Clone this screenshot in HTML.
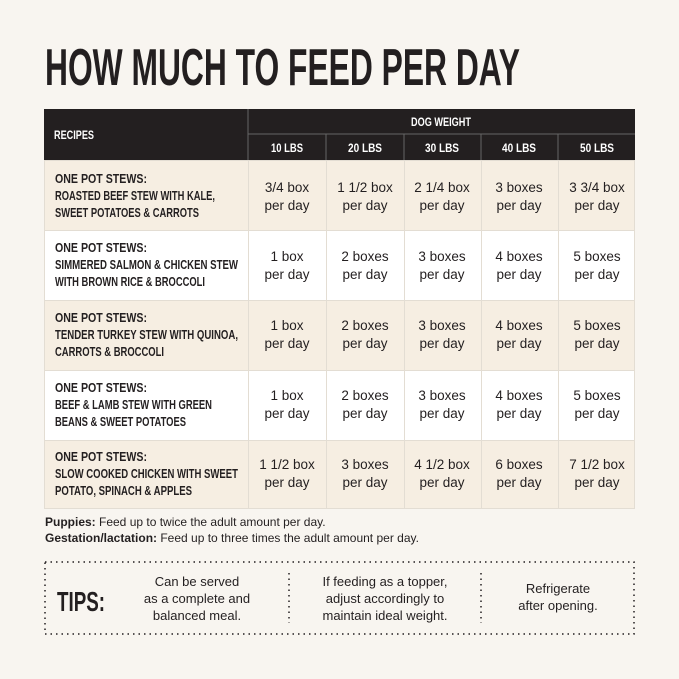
<!DOCTYPE html><html><head><style>
body{margin:0;width:679px;height:679px;background:#f8f5f0;position:relative;overflow:hidden;font-family:"Liberation Sans",sans-serif;color:#231f20}
.a{position:absolute}
</style></head><body>
<svg class="a" style="left:0;top:0" width="679" height="679">
<text x="45" y="85" font-family="Liberation Sans Narrow, Liberation Sans, sans-serif" font-weight="bold" font-size="52" textLength="475" lengthAdjust="spacingAndGlyphs" fill="#231f20">HOW MUCH TO FEED PER DAY</text>
<rect x="44" y="109" width="591" height="51" fill="#231f20"/>
<line x1="248" y1="109" x2="248" y2="160" stroke="#666" stroke-width="1"/>
<line x1="248" y1="134" x2="635" y2="134" stroke="#666"/>
<g stroke="#666"><line x1="326" y1="134" x2="326" y2="160"/><line x1="404" y1="134" x2="404" y2="160"/><line x1="481" y1="134" x2="481" y2="160"/><line x1="558" y1="134" x2="558" y2="160"/></g>
<g font-family="Liberation Sans Narrow, Liberation Sans, sans-serif" font-weight="bold" font-size="12" fill="#fff" text-anchor="middle">
<text x="54" y="139" text-anchor="start" textLength="40" lengthAdjust="spacingAndGlyphs">RECIPES</text>
<text x="441" y="126" textLength="60" lengthAdjust="spacingAndGlyphs">DOG WEIGHT</text>
<text x="287" y="152" textLength="32" lengthAdjust="spacingAndGlyphs">10 LBS</text>
<text x="365" y="152" textLength="34" lengthAdjust="spacingAndGlyphs">20 LBS</text>
<text x="442" y="152" textLength="34" lengthAdjust="spacingAndGlyphs">30 LBS</text>
<text x="519" y="152" textLength="34" lengthAdjust="spacingAndGlyphs">40 LBS</text>
<text x="597" y="152" textLength="34" lengthAdjust="spacingAndGlyphs">50 LBS</text>
</g>
<rect x="44" y="160" width="591" height="70" fill="#f6eee2"/>
<rect x="44" y="230" width="591" height="70" fill="#fff"/>
<rect x="44" y="300" width="591" height="70" fill="#f6eee2"/>
<rect x="44" y="370" width="591" height="70" fill="#fff"/>
<rect x="44" y="440" width="591" height="69" fill="#f6eee2"/>
<g stroke="#e3ddd3" stroke-width="1" fill="none">
<rect x="44.5" y="160.5" width="590" height="348"/>
<line x1="44" y1="230.5" x2="635" y2="230.5"/><line x1="44" y1="300.5" x2="635" y2="300.5"/><line x1="44" y1="370.5" x2="635" y2="370.5"/><line x1="44" y1="440.5" x2="635" y2="440.5"/>
<line x1="248.5" y1="160" x2="248.5" y2="509"/><line x1="326.5" y1="160" x2="326.5" y2="509"/><line x1="404.5" y1="160" x2="404.5" y2="509"/><line x1="481.5" y1="160" x2="481.5" y2="509"/><line x1="558.5" y1="160" x2="558.5" y2="509"/>
</g>
<g font-family="Liberation Sans Narrow, Liberation Sans, sans-serif" font-weight="bold" font-size="13" fill="#231f20">
<text x="55" y="183" textLength="92" lengthAdjust="spacingAndGlyphs">ONE POT STEWS:</text>
<text x="55" y="200" textLength="160" lengthAdjust="spacingAndGlyphs">ROASTED BEEF STEW WITH KALE,</text>
<text x="55" y="217" textLength="144" lengthAdjust="spacingAndGlyphs">SWEET POTATOES &amp; CARROTS</text>
<text x="55" y="252" textLength="92" lengthAdjust="spacingAndGlyphs">ONE POT STEWS:</text>
<text x="55" y="269" textLength="183" lengthAdjust="spacingAndGlyphs">SIMMERED SALMON &amp; CHICKEN STEW</text>
<text x="55" y="286" textLength="150" lengthAdjust="spacingAndGlyphs">WITH BROWN RICE &amp; BROCCOLI</text>
<text x="55" y="322" textLength="92" lengthAdjust="spacingAndGlyphs">ONE POT STEWS:</text>
<text x="55" y="339" textLength="183" lengthAdjust="spacingAndGlyphs">TENDER TURKEY STEW WITH QUINOA,</text>
<text x="55" y="356" textLength="109" lengthAdjust="spacingAndGlyphs">CARROTS &amp; BROCCOLI</text>
<text x="55" y="392" textLength="92" lengthAdjust="spacingAndGlyphs">ONE POT STEWS:</text>
<text x="55" y="409" textLength="157" lengthAdjust="spacingAndGlyphs">BEEF &amp; LAMB STEW WITH GREEN</text>
<text x="55" y="426" textLength="131" lengthAdjust="spacingAndGlyphs">BEANS &amp; SWEET POTATOES</text>
<text x="55" y="461" textLength="92" lengthAdjust="spacingAndGlyphs">ONE POT STEWS:</text>
<text x="55" y="478" textLength="183" lengthAdjust="spacingAndGlyphs">SLOW COOKED CHICKEN WITH SWEET</text>
<text x="55" y="495" textLength="137" lengthAdjust="spacingAndGlyphs">POTATO, SPINACH &amp; APPLES</text>
</g>
<g font-family="Liberation Sans, sans-serif" font-size="13.5" fill="#231f20" text-anchor="middle">
<text x="287" y="192">3/4 box</text><text x="287" y="210">per day</text>
<text x="365" y="192">1 1/2 box</text><text x="365" y="210">per day</text>
<text x="442" y="192">2 1/4 box</text><text x="442" y="210">per day</text>
<text x="519" y="192">3 boxes</text><text x="519" y="210">per day</text>
<text x="597" y="192">3 3/4 box</text><text x="597" y="210">per day</text>
<text x="287" y="261">1 box</text><text x="287" y="279">per day</text>
<text x="365" y="261">2 boxes</text><text x="365" y="279">per day</text>
<text x="442" y="261">3 boxes</text><text x="442" y="279">per day</text>
<text x="519" y="261">4 boxes</text><text x="519" y="279">per day</text>
<text x="597" y="261">5 boxes</text><text x="597" y="279">per day</text>
<text x="287" y="330">1 box</text><text x="287" y="348">per day</text>
<text x="365" y="330">2 boxes</text><text x="365" y="348">per day</text>
<text x="442" y="330">3 boxes</text><text x="442" y="348">per day</text>
<text x="519" y="330">4 boxes</text><text x="519" y="348">per day</text>
<text x="597" y="330">5 boxes</text><text x="597" y="348">per day</text>
<text x="287" y="400">1 box</text><text x="287" y="418">per day</text>
<text x="365" y="400">2 boxes</text><text x="365" y="418">per day</text>
<text x="442" y="400">3 boxes</text><text x="442" y="418">per day</text>
<text x="519" y="400">4 boxes</text><text x="519" y="418">per day</text>
<text x="597" y="400">5 boxes</text><text x="597" y="418">per day</text>
<text x="287" y="469">1 1/2 box</text><text x="287" y="487">per day</text>
<text x="365" y="469">3 boxes</text><text x="365" y="487">per day</text>
<text x="442" y="469">4 1/2 box</text><text x="442" y="487">per day</text>
<text x="519" y="469">6 boxes</text><text x="519" y="487">per day</text>
<text x="597" y="469">7 1/2 box</text><text x="597" y="487">per day</text>
</g>
<g font-family="Liberation Sans, sans-serif" font-size="12" fill="#231f20">
<text x="45" y="526"><tspan font-weight="bold">Puppies:</tspan> Feed up to twice the adult amount per day.</text>
<text x="45" y="542"><tspan font-weight="bold">Gestation/lactation:</tspan> Feed up to three times the adult amount per day.</text>
</g>
<rect x="45" y="562" width="589" height="72" fill="none" stroke="#231f20" stroke-width="1.5" stroke-dasharray="1.5 4"/>
<line x1="289" y1="573" x2="289" y2="623" stroke="#231f20" stroke-width="1.5" stroke-dasharray="1.5 4"/>
<line x1="481" y1="573" x2="481" y2="623" stroke="#231f20" stroke-width="1.5" stroke-dasharray="1.5 4"/>
<text x="57" y="611" font-family="Liberation Sans Narrow, Liberation Sans, sans-serif" font-weight="bold" font-size="28" textLength="48" lengthAdjust="spacingAndGlyphs" fill="#231f20">TIPS:</text>
<g font-family="Liberation Sans, sans-serif" font-size="13" fill="#231f20" text-anchor="middle">
<text x="197" y="586">Can be served</text><text x="197" y="603">as a complete and</text><text x="197" y="620">balanced meal.</text>
<text x="385" y="586">If feeding as a topper,</text><text x="385" y="603">adjust accordingly to</text><text x="385" y="620">maintain ideal weight.</text>
<text x="558" y="593">Refrigerate</text><text x="558" y="610">after opening.</text>
</g>
</svg>
</body></html>
